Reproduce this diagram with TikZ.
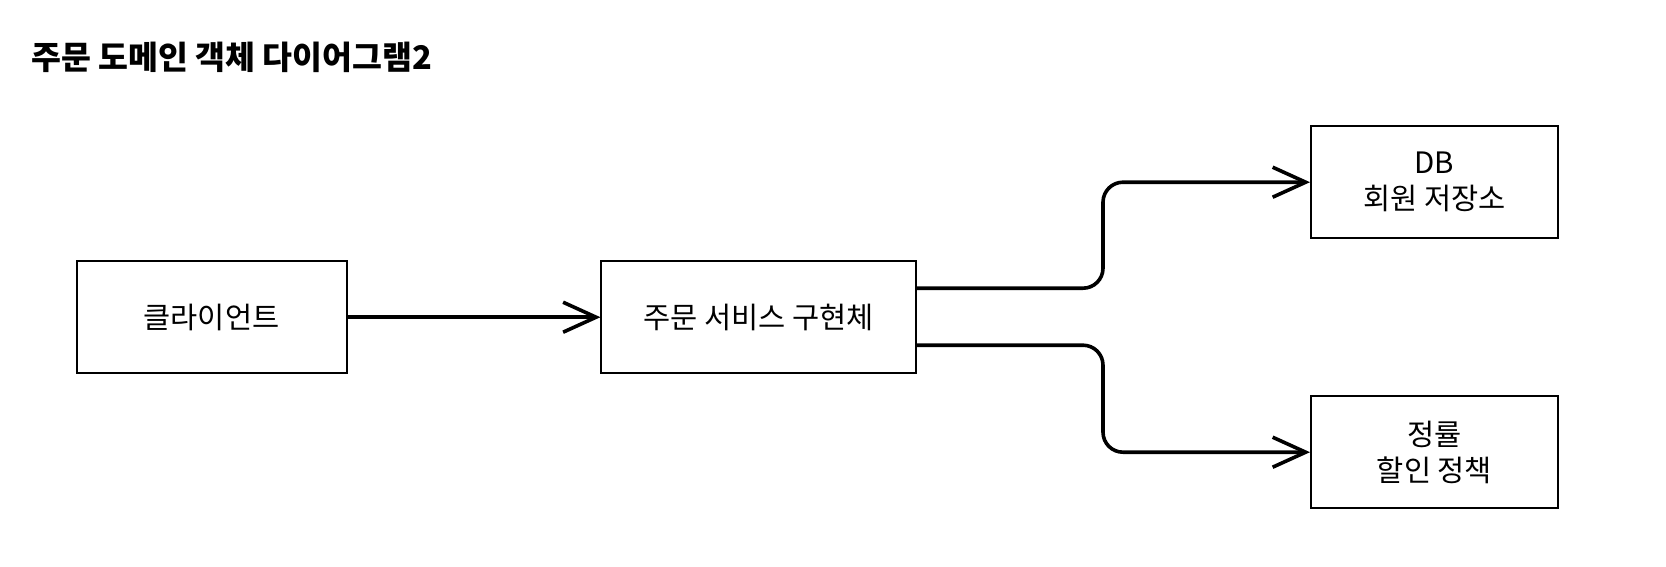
\documentclass[tikz,border=0pt]{standalone}
\usepackage{fontspec}
\setmainfont{Noto Sans CJK KR}
\usetikzlibrary{arrows.meta}
\begin{document}
\begin{tikzpicture}[x=1pt,y=-1pt,
  box/.style={draw=black,line width=2pt,rectangle,inner sep=0pt,align=center,font=\fontsize{29.5}{36}\selectfont},
  conn/.style={line width=3.6pt,rounded corners=20pt,-{Straight Barb[length=33pt,width=30pt]}}]
\useasboundingbox (0,0) rectangle (1666,566);
\node[anchor=west,font=\bfseries\fontsize{32.5}{36}\selectfont,inner sep=0pt] (title) at (31,57) {주문 도메인 객체 다이어그램2};
\node[box,minimum width=270pt,minimum height=112pt] (client) at (211.5,317.2) {클라이언트};
\node[box,minimum width=314.5pt,minimum height=112pt] (svc) at (758.7,317.2) {주문 서비스 구현체};
\node[box,minimum width=247pt,minimum height=112pt] (db) at (1434.5,182.2) {DB\\회원 저장소};
\node[box,minimum width=247pt,minimum height=112pt] (disc) at (1434.5,452.2) {정률\\할인 정책};
\draw[conn] (client.east) -- (svc.west);
\draw[conn] ([yshift=29pt]svc.east) -| (1103,182.2) -- (db.west);
\draw[conn] ([yshift=-28pt]svc.east) -| (1103,452.2) -- (disc.west);
\end{tikzpicture}
\end{document}
